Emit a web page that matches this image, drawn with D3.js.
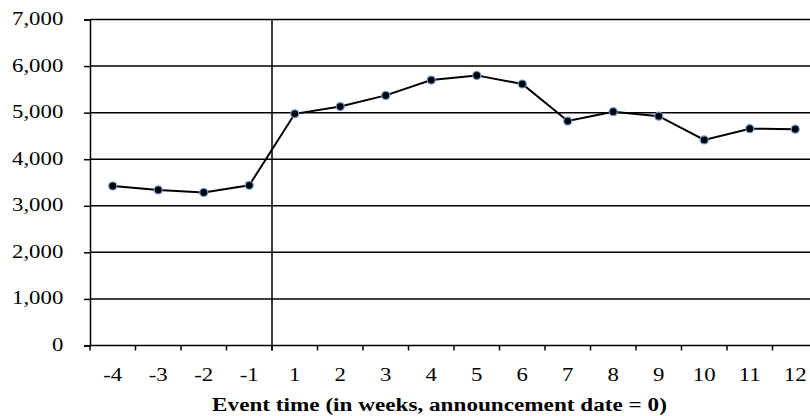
<!DOCTYPE html>
<html><head><meta charset="utf-8">
<script src="https://cdn.jsdelivr.net/npm/d3@7"></script>
<style>
html,body{margin:0;padding:0;background:#fff;}
svg{display:block;}
</style></head>
<body>
<svg id="chart" width="810" height="416"></svg>
<script>
const categories = ["-4","-3","-2","-1","1","2","3","4","5","6","7","8","9","10","11","12"];
const values = [3425,3340,3285,3440,4975,5130,5370,5700,5800,5615,4820,5020,4925,4415,4655,4645];
const yTicks = [0,1000,2000,3000,4000,5000,6000,7000];
const xTitle = "Event time (in weeks, announcement date = 0)";

const FONT = '"Liberation Serif", "Times New Roman", serif';
const SX = 1.2; // horizontal text stretch of the original
const svg = d3.select("#chart");
const plotLeft = 90, plotTop = 19.5, plotBottom = 345.5, bandW = 45.5;
const x = d3.scaleBand().domain(categories).range([plotLeft, plotLeft + bandW*categories.length]).paddingInner(0).paddingOuter(0);
const y = d3.scaleLinear().domain([0,7000]).range([plotBottom, plotTop]);

// gridlines
svg.append("g").selectAll("line").data(yTicks).join("line")
  .attr("x1", plotLeft).attr("x2", x.range()[1])
  .attr("y1", d=>y(d)).attr("y2", d=>y(d))
  .attr("stroke","#000").attr("stroke-width",1.5);

// y axis
const yAxis = d3.axisLeft(y).tickValues(yTicks).tickSize(6).tickPadding(27).tickFormat(d3.format(","));
const gy = svg.append("g").attr("transform",`translate(${plotLeft},0)`).call(yAxis);
gy.attr("font-family",null).attr("font-size",null);
gy.select(".domain").attr("stroke","#000").attr("stroke-width",1.5);
gy.selectAll(".tick line").attr("stroke","#000").attr("stroke-width",1.5);
gy.selectAll(".tick text")
  .attr("x",0).attr("dy",null).attr("y",0)
  .attr("transform",`translate(-26.7,5) scale(${SX},1)`)
  .style("font-family",FONT).style("font-size","19px").attr("fill","#000");

// x axis ticks at band boundaries
const bounds = categories.map(c=>x(c)).concat([x.range()[1]]);
svg.append("g").selectAll("line").data(bounds).join("line")
  .attr("x1",d=>d).attr("x2",d=>d).attr("y1",plotBottom).attr("y2",plotBottom+5)
  .attr("stroke","#000").attr("stroke-width",1.5);
svg.append("g").selectAll("text").data(categories).join("text")
  .attr("transform",d=>`translate(${x(d)+bandW/2},381) scale(${SX},1)`)
  .attr("text-anchor","middle").style("font-family",FONT).style("font-size","19px").attr("fill","#000")
  .text(d=>d);

// event line between -1 and 1
svg.append("line").attr("x1",x("1")).attr("x2",x("1")).attr("y1",y(7000)).attr("y2",plotBottom+5)
  .attr("stroke","#000").attr("stroke-width",1.5);

// series line
const line = d3.line().x((d,i)=>x(categories[i])+bandW/2).y(d=>y(d));
svg.append("path").datum(values).attr("d",line).attr("fill","none").attr("stroke","#000").attr("stroke-width",2);
svg.append("g").selectAll("circle").data(values).join("circle")
  .attr("cx",(d,i)=>x(categories[i])+bandW/2).attr("cy",d=>y(d)).attr("r",4)
  .attr("fill","#000").attr("stroke","#6a9bd8").attr("stroke-width",1.2);

// title
svg.append("text").attr("transform",`translate(439.5,411) scale(1.22,1)`).attr("text-anchor","middle")
  .style("font-family",FONT).style("font-size","19px").style("font-weight","bold").attr("fill","#000").text(xTitle);
</script>
</body></html>
